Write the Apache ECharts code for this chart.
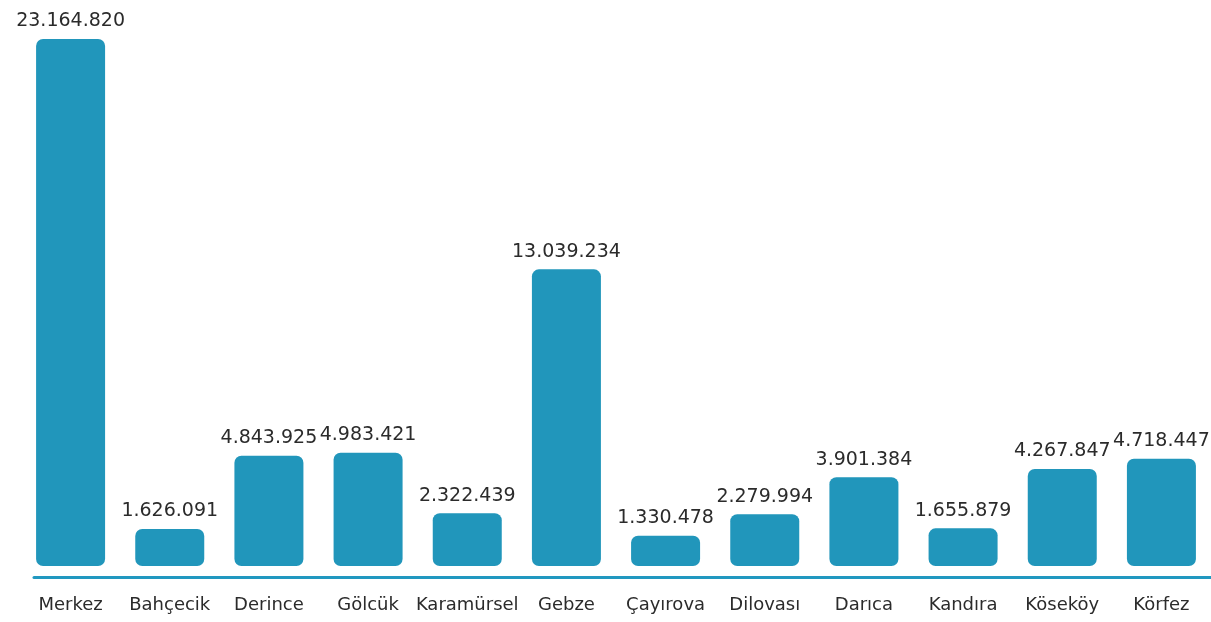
<!DOCTYPE html>
<html>
<head>
<meta charset="utf-8">
<script src="https://cdn.jsdelivr.net/npm/echarts@6/dist/echarts.min.js"></script>
<style>
html,body{margin:0;padding:0;background:#fff;}
#c{width:1211px;height:622px;}
</style>
</head>
<body>
<div id="c"></div>
<script>
const categories = ["Merkez","Bahçecik","Derince","Gölcük","Karamürsel","Gebze","Çayırova","Dilovası","Darıca","Kandıra","Köseköy","Körfez"];
const values = [23164820,1626091,4843925,4983421,2322439,13039234,1330478,2279994,3901384,1655879,4267847,4718447];

const fmt = v => String(v).replace(/\B(?=(\d{3})+(?!\d))/g, '.');
const barColor = '#2196bb';

const chart = echarts.init(document.getElementById('c'));
chart.setOption({
  animation: false,
  backgroundColor: '#ffffff',
  grid: [
    { left: 21, right: -2, top: 39, bottom: 56 },
    { left: 34, right: 0, top: 576, height: 1 }
  ],
  xAxis: [
    {
      type: 'category', gridIndex: 0, data: categories,
      axisLine: { show: false }, axisTick: { show: false },
      axisLabel: { margin: 30, color: '#2b2b2b', fontSize: 18, fontFamily: 'DejaVu Sans', interval: 0 }
    },
    {
      type: 'category', gridIndex: 1, data: categories,
      axisLine: { show: true, lineStyle: { color: '#2198c0', width: 3 } },
      axisTick: { show: false }, axisLabel: { show: false }
    }
  ],
  yAxis: [
    { type: 'value', gridIndex: 0, min: 0, max: 'dataMax', show: false, splitLine: { show: false } },
    { type: 'value', gridIndex: 1, show: false, splitLine: { show: false } }
  ],
  series: [{
    type: 'bar',
    xAxisIndex: 0, yAxisIndex: 0,
    data: values,
    barWidth: 69,
    itemStyle: { color: barColor, borderRadius: 7 },
    label: {
      show: true, position: 'top', distance: 8,
      color: '#2b2b2b', fontSize: 19, fontFamily: 'DejaVu Sans',
      formatter: p => fmt(p.value)
    }
  }]
});
</script>
</body>
</html>
